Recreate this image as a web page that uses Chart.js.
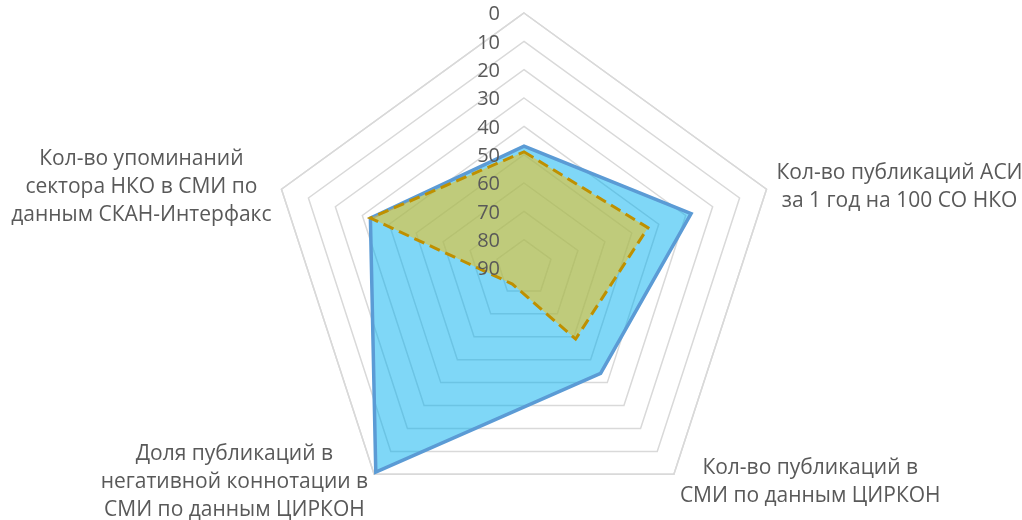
<!DOCTYPE html>
<html>
<head>
<meta charset="utf-8">
<script src="https://cdn.jsdelivr.net/npm/chart.js@4/dist/chart.umd.min.js"></script>
<style>
    html, body { margin: 0; padding: 0; background: #fff; overflow: hidden; width: 1022px; height: 520px; }
    #wrap { position: relative; width: 1022px; height: 524px; }
</style>
</head>
<body>
<div id="wrap"><canvas id="radarChart"></canvas></div>
<script>
// categories, clockwise from the top axis (top axis has no caption)
const axisLabels = [
    [''],
    ['Кол-во публикаций АСИ', 'за 1 год на 100 СО НКО'],
    ['Кол-во публикаций в', 'СМИ по данным ЦИРКОН'],
    ['Доля публикаций в', 'негативной коннотации в', 'СМИ по данным ЦИРКОН'],
    ['Кол-во упоминаний', 'сектора НКО в СМИ по', 'данным СКАН-Интерфакс']
];
const blueValues = [47, 28, 44, 1, 33];
const goldValues = [49, 44, 59, 83, 33];
const tickValues = [0, 10, 20, 30, 40, 50, 60, 70, 80, 90];

const TICK_FONT = '20px "Open Sans", sans-serif';
const LABEL_FONT = '21px "Open Sans", sans-serif';
const TEXT_COLOR = '#595959';
const GRID_COLOR = '#d9d9d9';

// Excel-like labels: ticks to the left of the top axis, captions beside the outer vertices
const excelLabels = {
    id: 'excelLabels',
    beforeDatasetsDraw(chart) {
        // chart.js skips the ring of the first tick, which is the outer one when reversed
        const r = chart.scales.r;
        const ctx = chart.ctx;
        ctx.save();
        ctx.strokeStyle = GRID_COLOR;
        ctx.lineWidth = 1.5;
        ctx.beginPath();
        for (let i = 0; i < axisLabels.length; i++) {
            const p = r.getPointPositionForValue(i, tickValues[0]);
            if (i === 0) ctx.moveTo(p.x, p.y); else ctx.lineTo(p.x, p.y);
        }
        ctx.closePath();
        ctx.stroke();
        ctx.restore();
    },
    afterDatasetsDraw(chart) {
        const r = chart.scales.r;
        const ctx = chart.ctx;
        ctx.save();
        ctx.fillStyle = TEXT_COLOR;

        // tick labels
        ctx.font = TICK_FONT;
        ctx.textAlign = 'right';
        ctx.textBaseline = 'middle';
        r.ticks.forEach(tick => {
            const d = r.getDistanceFromCenterForValue(tick.value);
            ctx.fillText(String(tick.value), r.xCenter - 24, r.yCenter - d + 1.5);
        });

        // category captions
        ctx.font = LABEL_FONT;
        const lineH = 28;
        ctx.textAlign = 'center';
        axisLabels.forEach((lines, i) => {
            const p = r.getPointPosition(i, r.drawingArea);
            const dx = p.x - r.xCenter;
            const upper = p.y < r.yCenter;
            const blockW = Math.max(...lines.map(l => ctx.measureText(l).width));
            const pad = upper ? 10 : 6;
            let cx = p.x;
            if (dx > 5) cx = p.x + pad + blockW / 2;
            else if (dx < -5) cx = p.x - pad - blockW / 2;
            const cy = upper ? p.y - 2 : p.y + 8;
            const top = cy - (lines.length - 1) * lineH / 2;
            lines.forEach((l, k) => ctx.fillText(l, cx, top + k * lineH));
        });
        ctx.restore();
    }
};

const ctx = document.getElementById('radarChart').getContext('2d');
new Chart(ctx, {
    type: 'radar',
    data: {
        labels: axisLabels,
        datasets: [{
            label: 'Ряд 1',
            data: blueValues,
            order: 2,
            fill: 'start',
            backgroundColor: 'rgba(0, 176, 240, 0.5)',
            borderColor: '#5b9bd5',
            borderWidth: 3.5,
            pointRadius: 0,
            tension: 0
        }, {
            label: 'Ряд 2',
            data: goldValues,
            order: 1,
            fill: 'start',
            backgroundColor: 'rgba(255, 192, 0, 0.5)',
            borderColor: '#bf9000',
            borderWidth: 3,
            borderDash: [11, 6],
            pointRadius: 0,
            tension: 0
        }]
    },
    options: {
        responsive: true,
        maintainAspectRatio: false,
        animation: false,
        layout: {
            padding: { left: 269, right: 243, top: 13, bottom: 0 }
        },
        plugins: {
            legend: { display: false },
            tooltip: { enabled: false }
        },
        scales: {
            r: {
                min: 0,
                max: 90,
                reverse: true,
                angleLines: { display: false },
                grid: { color: GRID_COLOR, lineWidth: 1.5, circular: false },
                ticks: { display: false, stepSize: 10 },
                pointLabels: { display: false }
            }
        }
    },
    plugins: [excelLabels]
});
</script>
</body>
</html>
